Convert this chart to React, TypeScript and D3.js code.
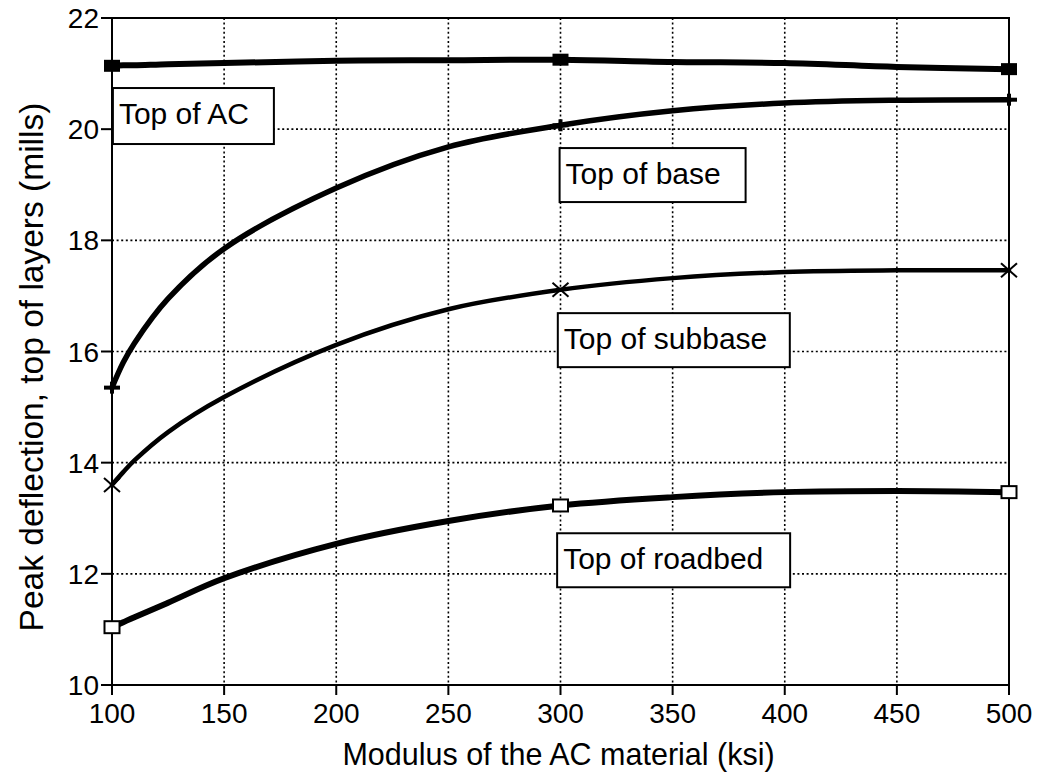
import React, { useEffect } from "react";
import * as d3 from "d3";

// ---- data ----
const modulus = [100, 105, 110, 125, 150, 200, 250, 300, 350, 400, 450, 500];
const topOfAC = [21.14, 21.15, 21.15, 21.17, 21.19, 21.23, 21.24, 21.25, 21.21, 21.19, 21.12, 21.08];
const topOfBase = [15.35, 15.8, 16.15, 16.95, 17.85, 18.94, 19.68, 20.07, 20.33, 20.47, 20.52, 20.53];
const topOfSubbase = [13.6, 13.83, 14.04, 14.55, 15.18, 16.12, 16.76, 17.11, 17.32, 17.43, 17.46, 17.46];
const topOfRoadbed = [11.04, 11.13, 11.22, 11.48, 11.92, 12.54, 12.95, 13.23, 13.38, 13.47, 13.49, 13.47];
const markerModulus = [100, 300, 500];
const seriesNames = ["Top of AC", "Top of base", "Top of subbase", "Top of roadbed"];
const xTicks = [100, 150, 200, 250, 300, 350, 400, 450, 500];
const yTicks = [10, 12, 14, 16, 18, 20, 22];
const xTitle = "Modulus of the AC material (ksi)";
const yTitle = "Peak deflection, top of layers (mills)";

// ---- layout ----
const W = 1041;
const H = 776;
const M = { left: 112, right: 1009, top: 18, bottom: 685 };
const FONT = "'Liberation Sans', Arial, Helvetica, sans-serif";

const seriesValues = [topOfAC, topOfBase, topOfSubbase, topOfRoadbed];
const seriesStyle = [
  { width: 6, marker: "filledSquare" },
  { width: 5.5, marker: "plus" },
  { width: 4.5, marker: "cross" },
  { width: 6, marker: "openSquare" },
];
// label boxes anchored in data coordinates (left edge modulus, top value) + box size
const labelLayout = [
  { x: 100.4, y: 20.74, w: 161, h: 56 },
  { x: 299.6, y: 19.66, w: 186, h: 54 },
  { x: 298.8, y: 16.69, w: 232, h: 54 },
  { x: 298.5, y: 12.73, w: 233, h: 54 },
];

const xScale = d3.scaleLinear().domain([100, 500]).range([M.left, M.right]);
const yScale = d3.scaleLinear().domain([10, 22]).range([M.bottom, M.top]);

function Marker({ kind, cx, cy }: { kind: string; cx: number; cy: number }) {
  if (kind === "filledSquare")
    return <rect x={cx - 8} y={cy - 6} width={16} height={12} fill="#000" />;
  if (kind === "openSquare")
    return <rect x={cx - 7.5} y={cy - 6} width={15} height={12} fill="#fff" stroke="#000" strokeWidth={2} />;
  if (kind === "plus")
    return (
      <g stroke="#000" strokeWidth={4}>
        <line x1={cx - 8} x2={cx + 8} y1={cy} y2={cy} />
        <line x1={cx} x2={cx} y1={cy - 6} y2={cy + 6} />
      </g>
    );
  return (
    <g stroke="#000" strokeWidth={2}>
      <line x1={cx - 8} x2={cx + 8} y1={cy - 7} y2={cy + 7} />
      <line x1={cx - 8} x2={cx + 8} y1={cy + 7} y2={cy - 7} />
    </g>
  );
}

export default function App() {
  useEffect(() => {
    document.body.style.margin = "0";
  }, []);

  const line = d3
    .line<number>()
    .x((_, i) => xScale(modulus[i]))
    .y((d) => yScale(d))
    .curve(d3.curveCatmullRom.alpha(0.5));

  return (
    <svg width={W} height={H} style={{ display: "block", background: "#fff" }} fontFamily={FONT}>
      <rect x={0} y={0} width={W} height={H} fill="#fff" />
      {/* grid */}
      <g stroke="#000" strokeWidth={1.6} strokeDasharray="2,2.6">
        {xTicks.slice(1, -1).map((t) => (
          <line key={"gx" + t} x1={xScale(t)} x2={xScale(t)} y1={M.top} y2={M.bottom} />
        ))}
        {yTicks.slice(1, -1).map((t) => (
          <line key={"gy" + t} x1={M.left} x2={M.right} y1={yScale(t)} y2={yScale(t)} />
        ))}
      </g>
      {/* frame */}
      <rect x={M.left} y={M.top} width={M.right - M.left} height={M.bottom - M.top} fill="none" stroke="#000" strokeWidth={2} />
      {/* ticks */}
      <g stroke="#000" strokeWidth={2}>
        {xTicks.map((t) => (
          <line key={"tx" + t} x1={xScale(t)} x2={xScale(t)} y1={M.bottom} y2={M.bottom + 10} />
        ))}
        {yTicks.map((t) => (
          <line key={"ty" + t} x1={M.left - 11} x2={M.left} y1={yScale(t)} y2={yScale(t)} />
        ))}
      </g>
      {/* tick labels */}
      <g fontSize={28} fill="#000">
        {xTicks.map((t) => (
          <text key={"lx" + t} x={xScale(t)} y={M.bottom + 38} textAnchor="middle">
            {t}
          </text>
        ))}
        {yTicks.map((t) => (
          <text key={"ly" + t} x={M.left - 13} y={yScale(t) + 10} textAnchor="end">
            {t}
          </text>
        ))}
      </g>
      {/* axis titles */}
      <text x={(M.left + M.right) / 2 - 2} y={765} textAnchor="middle" fontSize={30.5} fill="#000">
        {xTitle}
      </text>
      <text
        transform={`translate(43,367) rotate(-90)`}
        textAnchor="middle"
        fontSize={33.5}
        fill="#000"
      >
        {yTitle}
      </text>
      {/* series */}
      {seriesValues.map((vals, si) => (
        <g key={"s" + si}>
          <path d={line(vals) || ""} fill="none" stroke="#000" strokeWidth={seriesStyle[si].width} strokeLinejoin="round" strokeLinecap="round" />
          {markerModulus.map((m) => {
            const i = modulus.indexOf(m);
            return <Marker key={m} kind={seriesStyle[si].marker} cx={xScale(m)} cy={yScale(vals[i])} />;
          })}
        </g>
      ))}
      {/* labels */}
      {seriesNames.map((name, i) => {
        const L = labelLayout[i];
        const x0 = xScale(L.x);
        const y0 = yScale(L.y);
        return (
          <g key={"lab" + i}>
            <rect x={x0} y={y0} width={L.w} height={L.h} fill="#fff" stroke="#000" strokeWidth={2} />
            <text x={x0 + 6} y={y0 + 36} fontSize={30} fill="#000">
              {name}
            </text>
          </g>
        );
      })}
    </svg>
  );
}
